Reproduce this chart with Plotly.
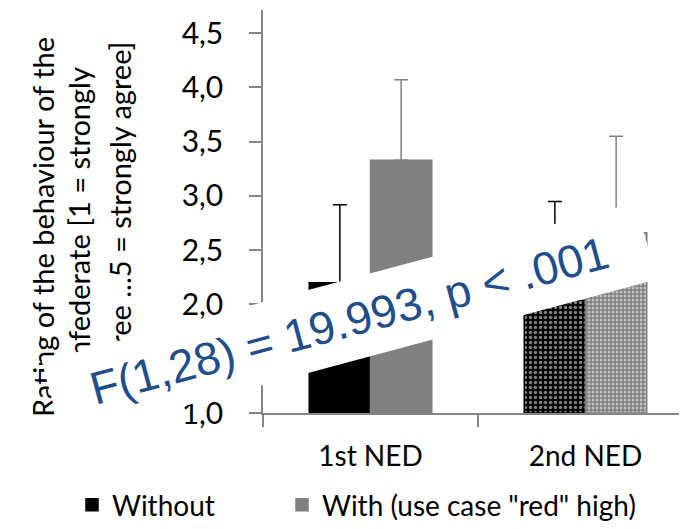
import plotly.graph_objects as go

categories = ["1st NED", "2nd NED"]
without_mean = [2.20, 2.04]
without_sd = [0.72, 0.91]
with_mean = [3.33, 2.66]
with_sd = [0.74, 0.89]
series_names = ["Without", 'With (use case "red" high)']
ytitle_lines = ["Rating of the behaviour of the",
                "confederate [1 = strongly",
                "disagree ...5 = strongly agree]"]
stat_text = "F(1,28) = 19.993, p < .001"

FONT = "Lato"
AX = "#868686"
OFF = 8                      # page body margin of the browser
W, H = 687 - OFF, 529 - OFF  # figure size inside the window
L, R, T, B = 263 - OFF, 0, 10 - OFF, 116
pw, ph = W - L - R, H - T - B

def px_x(x):
    return (x - OFF - L) / pw

def px_y(y):
    return 1 - (y - OFF - T) / ph

fig = go.Figure()
fig.add_trace(go.Bar(
    x=categories, y=[m - 1 for m in without_mean], base=1, name=series_names[0],
    legend="legend",
    marker=dict(color="#000000", line=dict(color="#000000", width=1.5),
                pattern=dict(shape=["", "."], bgcolor=["#000000", "#000000"],
                             fgcolor=["#ffffff", "#ffffff"], size=5, solidity=0.35)),
    error_y=dict(type="data", symmetric=False, array=without_sd, arrayminus=[0, 0],
                 color="#000000", thickness=1.5, width=7),
))
fig.add_trace(go.Bar(
    x=categories, y=[m - 1 for m in with_mean], base=1, name=series_names[1],
    legend="legend2",
    marker=dict(color="#808080", line=dict(color="#808080", width=1.5),
                pattern=dict(shape=["", "."], bgcolor=["#808080", "#808080"],
                             fgcolor=["#808080", "#ffffff"], size=4, solidity=0.45)),
    error_y=dict(type="data", symmetric=False, array=with_sd, arrayminus=[0, 0],
                 color="#808080", thickness=1.5, width=7),
))

annotations = []
for xpix, line in zip([42, 78, 119], ytitle_lines):
    annotations.append(dict(
        text=line, xref="paper", yref="paper", x=px_x(xpix), y=px_y(227),
        xanchor="center", yanchor="middle", textangle=-15 * 6, showarrow=False,
        font=dict(family=FONT, size=29, color="#000000")))
annotations.append(dict(
    text=stat_text, xref="paper", yref="paper", x=px_x(349), y=px_y(320),
    xanchor="center", yanchor="middle", textangle=-15, showarrow=False,
    bgcolor="#ffffff", width=594, height=59, borderpad=10,
    font=dict(family="Liberation Sans", size=46, color="#1F4E8A")))

legend_common = dict(orientation="h", xref="container", yref="container",
                     y=1 - (505 - OFF) / H, xanchor="left", yanchor="middle",
                     font=dict(family=FONT, size=28, color="#000000"),
                     itemwidth=30, bgcolor="rgba(0,0,0,0)")

fig.update_layout(
    width=W, height=H, margin=dict(l=L, r=R, t=T, b=B, autoexpand=False),
    paper_bgcolor="white", plot_bgcolor="white",
    separators=",.",
    barmode="group", bargap=0.43, bargroupgap=0,
    showlegend=True,
    legend=dict(x=(72 - OFF) / W, **legend_common),
    legend2=dict(x=(282 - OFF) / W, **legend_common),
    annotations=annotations,
    xaxis=dict(type="category", range=[-0.5, -0.5 + pw / 215], tickson="boundaries",
               ticks="outside", ticklen=12, tickcolor=AX, tickwidth=1.5,
               showline=True, linecolor=AX, linewidth=1.5, showgrid=False,
               ticklabelstandoff=18,
               tickfont=dict(family=FONT, size=28, color="#000000")),
    yaxis=dict(range=[1, 1 + (413.3 - 10) / 108.6], tick0=1, dtick=0.5, tickformat=".1f",
               ticks="outside", ticklen=12, tickcolor=AX, tickwidth=1.5,
               showline=True, linecolor=AX, linewidth=1.5, showgrid=False,
               zeroline=False, ticklabelstandoff=20,
               tickfont=dict(family=FONT, size=30, color="#000000")),
)

fig.write_html("out.html")
